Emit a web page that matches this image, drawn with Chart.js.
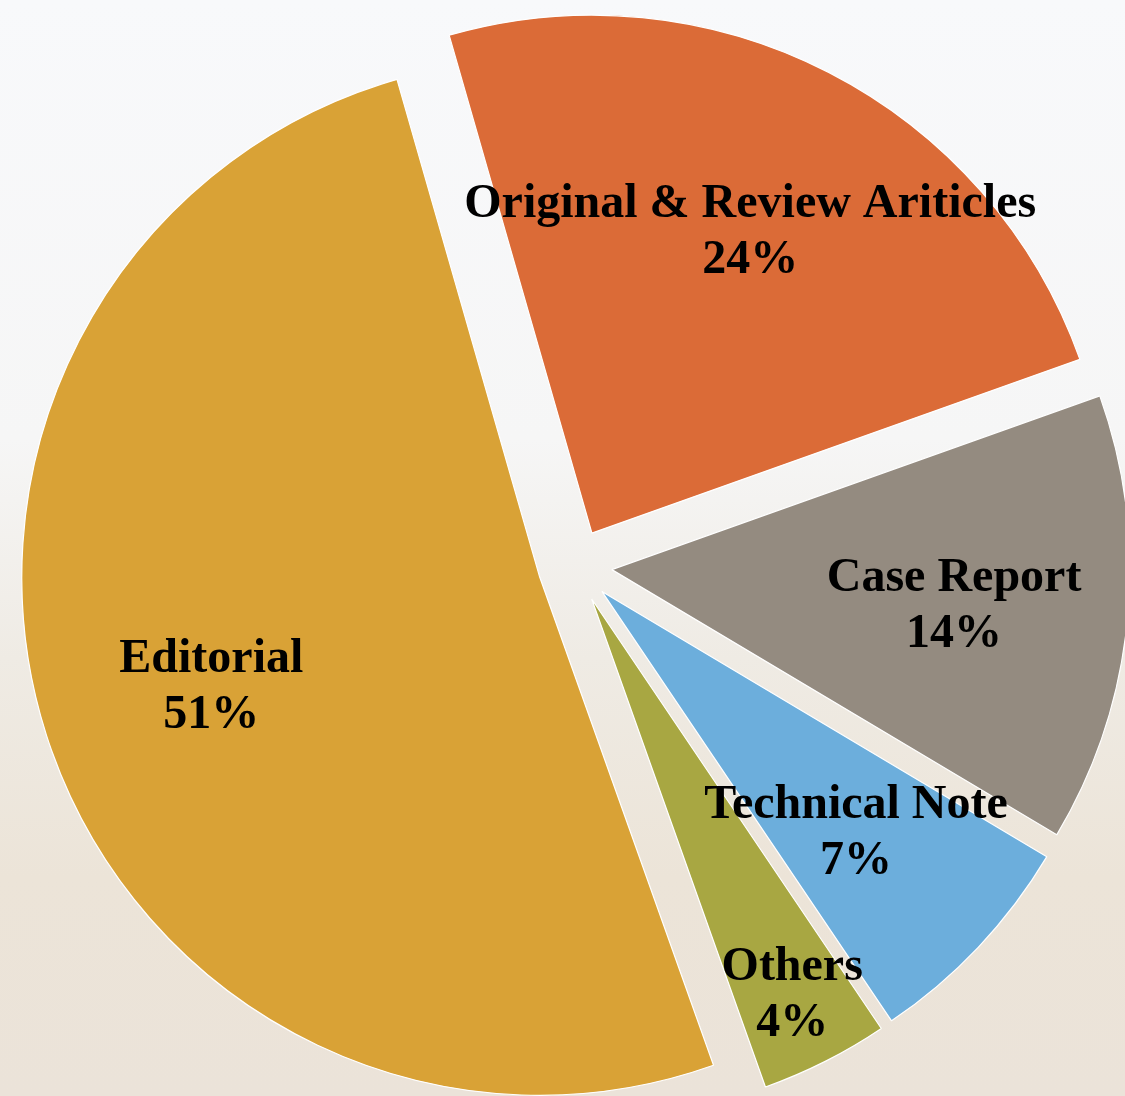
<!DOCTYPE html>
<html>
<head>
<meta charset="utf-8">
<script src="https://cdn.jsdelivr.net/npm/chart.js@4"></script>
<style>
  html, body { margin: 0; padding: 0; }
  body {
    width: 1125px; height: 1096px; overflow: hidden;
    background: linear-gradient(to bottom, #f8f9fb 0%, #f6f6f6 40%, #efebe4 60%, #ece4d8 80%, #ebe3d9 100%);
  }
  #wrap { position: relative; width: 1125px; height: 1096px; }
</style>
</head>
<body>
<div id="wrap"><canvas id="chart-article-types"></canvas></div>
<script>
// article type breakdown (percent)
const categories = ["Original & Review Ariticles", "Case Report", "Technical Note", "Others", "Editorial"];
const shares = [24, 14, 7, 4, 51];

const sliceColors = ["#db6b37", "#948b80", "#6caedc", "#a8a742", "#d9a236"];
// where the label sits along the slice (fraction of radius)
const labelDepth = [0.66, 0.66, 0.67, 0.85, 0.67];
// 每塊往外推的距離 (px)
const EXPLODE = 37;

// Chart.js 的 offset 會同時放大半徑，所以自己平移每一塊
const explodeSlices = {
  id: "explodeSlices",
  beforeDatasetDraw(chart, args) {
    const ctx = chart.ctx;
    args.meta.data.forEach(arc => {
      const mid = (arc.startAngle + arc.endAngle) / 2;
      ctx.save();
      ctx.translate(Math.cos(mid) * EXPLODE, Math.sin(mid) * EXPLODE);
      arc.draw(ctx);
      ctx.restore();
    });
    return false;
  }
};

// 畫 label：名稱 + 百分比（兩行）
const sliceLabels = {
  id: "sliceLabels",
  afterDatasetsDraw(chart) {
    const ctx = chart.ctx;
    const meta = chart.getDatasetMeta(0);
    ctx.save();
    ctx.fillStyle = "#000";
    ctx.font = "bold 48px 'Liberation Serif', 'Times New Roman', serif";
    ctx.textAlign = "center";
    ctx.textBaseline = "middle";
    meta.data.forEach((arc, i) => {
      const mid = (arc.startAngle + arc.endAngle) / 2;
      const dist = EXPLODE + arc.outerRadius * labelDepth[i];
      const cx = arc.x + Math.cos(mid) * dist;
      const cy = arc.y + Math.sin(mid) * dist + 4;
      ctx.fillText(categories[i], cx + 2, cy - 28);
      ctx.fillText(shares[i] + "%", cx + 2, cy + 28);
    });
    ctx.restore();
  }
};

const ctx = document.getElementById("chart-article-types").getContext("2d");
new Chart(ctx, {
  type: "pie",
  data: {
    labels: categories,
    datasets: [{
      data: shares,
      backgroundColor: sliceColors,
      borderColor: "#ffffff",
      borderWidth: 1.2,
      clip: false
    }]
  },
  options: {
    responsive: true,
    maintainAspectRatio: false,
    animation: false,
    rotation: -16,
    radius: 518,
    layout: { padding: { left: 25, top: 36, right: 0, bottom: 0 } },
    plugins: {
      legend: { display: false },
      tooltip: { enabled: false }
    }
  },
  plugins: [explodeSlices, sliceLabels]
});
</script>
</body>
</html>
